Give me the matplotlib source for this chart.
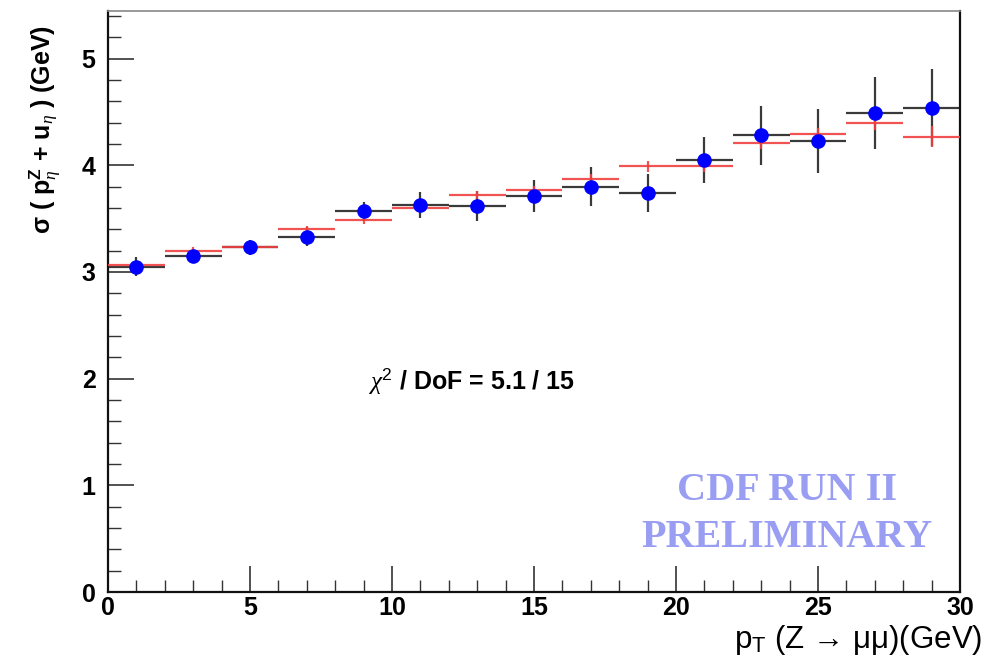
import matplotlib
matplotlib.use("Agg")
import matplotlib.pyplot as plt
from matplotlib.ticker import MultipleLocator

plt.rcParams['font.family'] = ['Liberation Sans', 'DejaVu Sans']
plt.rcParams['mathtext.fontset'] = 'custom'
plt.rcParams['mathtext.rm'] = 'Liberation Sans'
plt.rcParams['mathtext.bf'] = 'Liberation Sans:bold'
plt.rcParams['mathtext.it'] = 'Liberation Serif:italic'

# data
bin_centers = [1, 3, 5, 7, 9, 11, 13, 15, 17, 19, 21, 23, 25, 27, 29]
bin_halfwidth = [1] * 15
data_vals = [3.05, 3.15, 3.23, 3.33, 3.57, 3.63, 3.62, 3.71, 3.80, 3.74, 4.05, 4.28, 4.23, 4.49, 4.54]
data_errs = [0.09, 0.05, 0.07, 0.09, 0.09, 0.12, 0.14, 0.15, 0.18, 0.18, 0.22, 0.28, 0.30, 0.34, 0.36]
model_vals = [3.07, 3.20, 3.23, 3.40, 3.49, 3.60, 3.72, 3.77, 3.87, 3.99, 3.99, 4.21, 4.29, 4.40, 4.27]
model_errs = [0.03, 0.03, 0.03, 0.03, 0.04, 0.04, 0.04, 0.04, 0.05, 0.05, 0.05, 0.06, 0.06, 0.07, 0.10]
x_ticks = [0, 5, 10, 15, 20, 25, 30]
y_ticks = [0, 1, 2, 3, 4, 5]

fig = plt.figure(figsize=(9.92, 6.63), dpi=100)
ax = fig.add_axes([0.1089, 0.107, 0.8588, 0.877])

ax.errorbar(bin_centers, data_vals, xerr=bin_halfwidth, yerr=data_errs, fmt='none',
            ecolor='#3a3a3a', elinewidth=1.6, capsize=0, zorder=2)
ax.errorbar(bin_centers, model_vals, xerr=bin_halfwidth, yerr=model_errs, fmt='none',
            ecolor='#f04040', elinewidth=1.6, capsize=0, zorder=3, alpha=0.9)
ax.plot(bin_centers, data_vals, 'o', color='#0000ff', markersize=9.5, zorder=4)

ax.set_xlim(0, 30)
ax.set_ylim(0, 5.45)
ax.set_xticks(x_ticks)
ax.set_yticks(y_ticks)
ax.xaxis.set_minor_locator(MultipleLocator(1))
ax.yaxis.set_minor_locator(MultipleLocator(0.2))
ax.tick_params(axis='both', which='major', direction='in', length=19, width=1.2,
               labelsize=18, top=False, right=False, color='#333333')
ax.tick_params(axis='both', which='minor', direction='in', length=9, width=1.0,
               top=False, right=False, color='#333333')
for lab in ax.get_xticklabels() + ax.get_yticklabels():
    lab.set_fontweight('bold')
ax.tick_params(axis='x', pad=3)
ax.tick_params(axis='y', pad=9)

for side in ['left', 'bottom', 'right']:
    ax.spines[side].set_linewidth(1.6)
    ax.spines[side].set_color('#111111')
ax.spines['top'].set_linewidth(1.2)
ax.spines['top'].set_color('#888888')

ax.text(12.8, 1.98, r'$\chi^{2}$' + ' / DoF = 5.1 / 15', fontsize=18, fontweight='bold',
        ha='center', va='center')
ax.text(23.9, 0.955, 'CDF RUN II', fontsize=29, fontweight='bold', family='Liberation Serif',
        color='#9a9ef2', ha='center', va='center')
ax.text(23.9, 0.515, 'PRELIMINARY', fontsize=29, fontweight='bold', family='Liberation Serif',
        color='#9a9ef2', ha='center', va='center')

fig.text(0.99, 1 - 648 / 663, r'p$_{\mathregular{T}}$ (Z → μμ)(GeV)', fontsize=22.5,
         ha='right', va='baseline', family=['Liberation Sans', 'DejaVu Sans'])
fig.text(0.046, 1 - 25 / 663, r'σ ( $\mathbf{p}_{\eta}^{\mathbf{Z}}$ + $\mathbf{u}_{\eta}$ ) (GeV)',
         fontsize=18, fontweight='bold', rotation=90, ha='center', va='top')

fig.savefig('out.png', dpi=100)
